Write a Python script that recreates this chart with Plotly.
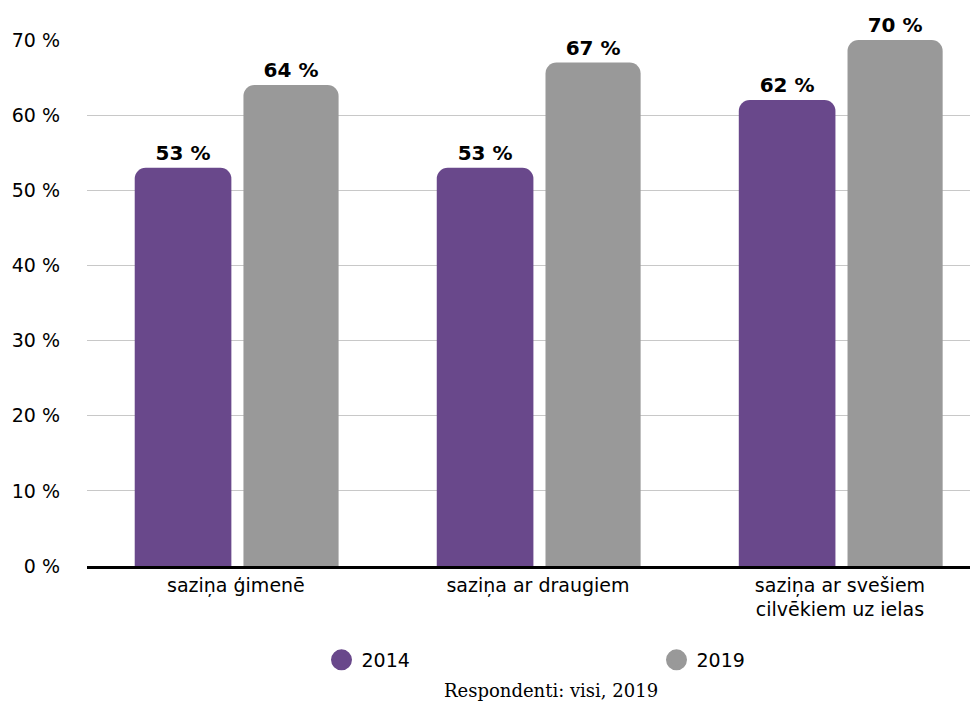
import plotly.graph_objects as go

categories = ["saziņa ģimenē", "saziņa ar draugiem", "saziņa ar svešiem<br>cilvēkiem uz ielas"]
series_names = ["2014", "2019"]
values_2014 = [53, 53, 62]
values_2019 = [64, 67, 70]
y_ticks = [0, 10, 20, 30, 40, 50, 60, 70]
y_tick_labels = [f"{v} %" for v in y_ticks]
caption = "Respondenti: visi, 2019"

PURPLE = "#69488B"
GRAY = "#999999"
FONT = "DejaVu Sans"

# page body has an 8px margin, so figure is offset by 8px
OFF = 8
W, H = 978 - OFF, 704 - OFF
L, R, T = 87 - OFF, 0, 40 - OFF
PH = 526
B = H - T - PH
PW = W - L - R

fig = go.Figure()
fig.add_trace(go.Bar(
    x=categories, y=values_2014, name=series_names[0],
    marker=dict(color=PURPLE, line=dict(width=0)),
    width=0.32, offset=-0.335,
    text=[f"{v} %" for v in values_2014], textposition="outside",
    textfont=dict(family=FONT, size=20, color="black", weight="bold"),
    cliponaxis=False, showlegend=False,
))
fig.add_trace(go.Bar(
    x=categories, y=values_2019, name=series_names[1],
    marker=dict(color=GRAY, line=dict(width=0)),
    width=0.315, offset=0.025,
    text=[f"{v} %" for v in values_2019], textposition="outside",
    textfont=dict(family=FONT, size=20, color="black", weight="bold"),
    cliponaxis=False, showlegend=False,
))
for name, col in zip(series_names, [PURPLE, GRAY]):
    fig.add_trace(go.Scatter(
        x=[None], y=[None], mode="markers", name=name,
        marker=dict(symbol="circle", size=16, color=col, line=dict(color=col, width=5)),
    ))

fig.update_layout(
    width=W, height=H,
    margin=dict(l=L, r=R, t=T, b=B, autoexpand=False),
    plot_bgcolor="white", paper_bgcolor="white",
    font=dict(family=FONT, size=19, color="black"),
    barcornerradius=11,
    xaxis=dict(
        type="category", range=[-0.493, 2.457], automargin=False,
        showline=True, linecolor="black", linewidth=2.5,
        showgrid=False, ticks="", tickfont=dict(size=19),
    ),
    yaxis=dict(
        range=[0, 70], tickvals=y_ticks, ticktext=y_tick_labels, automargin=False,
        showgrid=True, gridcolor="#C8C8C8", gridwidth=1.2,
        zeroline=False, showline=False, ticks="",
        ticklabelstandoff=26, tickfont=dict(size=19),
    ),
    legend=dict(
        orientation="h", x=0.5 + 124 / PW, xanchor="center",
        y=-94 / PH, yanchor="middle",
        entrywidth=290, entrywidthmode="pixels",
        font=dict(size=19), itemclick=False,
    ),
    annotations=[dict(
        text=caption, x=(551 - 87) / PW, xref="paper", y=-124 / PH, yref="paper",
        xanchor="center", yanchor="middle",
        showarrow=False, font=dict(family="DejaVu Serif", size=18, color="black"),
    )],
)
fig.write_html("out.html")
